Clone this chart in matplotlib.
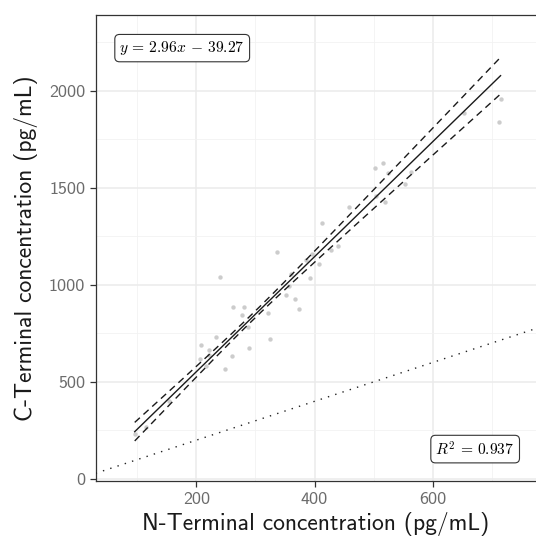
"""N-terminal vs C-terminal concentration: scatter, fitted line with 95% CI and identity line."""

import numpy as np
import matplotlib

matplotlib.use("Agg")
import matplotlib.pyplot as plt  # noqa: E402
from matplotlib.ticker import MultipleLocator  # noqa: E402

# values (pg/mL)
n_term = [95.6, 114.8, 153.7, 205.8, 208.5, 216.5, 221.0, 222.0, 234.0, 239.7,
          249.2, 260.5, 261.7, 277.0, 281.4, 288.1, 288.8, 321.0, 324.4, 336.8,
          352.0, 356.6, 361.0, 366.8, 373.6, 386.0, 392.5, 396.0, 407.5, 412.5,
          427.8, 439.0, 458.8, 503.0, 504.6, 516.4, 519.0, 524.5, 553.7, 563.4,
          652.6, 712.6, 715.0]
c_term = [230, 269, 403, 616, 692, 583, 664, 640, 733, 1040,
          568, 635, 887, 845, 884, 784, 676, 856, 722, 1167,
          947, 994, 1056, 927, 875, 1128, 1033, 1158, 1107, 1318,
          1179, 1201, 1402, 1603, 1459, 1627, 1428, 1577, 1521, 1581,
          1886, 1840, 1957]

# fit summary (coefficients from the label, uncertainty estimated from the band)
slope = 2.96
intercept = -39.27
r_squared = 0.937
slope_se = 0.110
intercept_se = 33.7
coef_corr = -0.968
t_crit = 2.0195  # 95%

x = np.asarray(n_term, dtype=float)
y = np.asarray(c_term, dtype=float)

# confidence band of the fitted line from the coefficient covariance
x_fit = np.linspace(x.min(), x.max(), 200)
y_fit = slope * x_fit + intercept
cov_ab = coef_corr * slope_se * intercept_se
half = t_crit * np.sqrt(intercept_se ** 2 + x_fit ** 2 * slope_se ** 2
                        + 2 * x_fit * cov_ab)

plt.rcParams["mathtext.fontset"] = "cm"
sans = "cmss10"

fig = plt.figure(figsize=(5.36, 5.39), dpi=100)
ax = fig.add_axes([0.1785, 0.107, 0.8215, 0.8657])

ax.set_xlim(29.5, 775)
ax.set_ylim(-12, 2391)
ax.xaxis.set_major_locator(MultipleLocator(200))
ax.xaxis.set_minor_locator(MultipleLocator(100))
ax.yaxis.set_major_locator(MultipleLocator(500))
ax.yaxis.set_minor_locator(MultipleLocator(250))

ax.grid(which="major", color="#ebebeb", linewidth=1.1)
ax.grid(which="minor", color="#f2f2f2", linewidth=0.6)
ax.set_axisbelow(True)

ax.scatter(x, y, s=10, color="#cccccc", linewidths=0, zorder=2)
ax.axline((0, 0), slope=1, color="#222222", linewidth=1.0,
          linestyle=(0, (1, 4.5)), zorder=3)
ax.plot(x_fit, y_fit, color="#1a1a1a", linewidth=1.0, zorder=4)
ax.plot(x_fit, y_fit + half, color="#1a1a1a", linewidth=1.0,
        linestyle=(0, (5, 3.5)), zorder=4)
ax.plot(x_fit, y_fit - half, color="#1a1a1a", linewidth=1.0,
        linestyle=(0, (5, 3.5)), zorder=4)

box = dict(boxstyle="round,pad=0.3,rounding_size=0.3", facecolor="white",
           edgecolor="#333333", linewidth=0.8)
eq = rf"$y\,=\,{slope:.2f}x\,-\,{abs(intercept):.2f}$"
ax.text(176, 2219, eq, ha="center", va="center", fontsize=11.2, bbox=box, zorder=5)
ax.text(672, 154, rf"$R^2\,=\,{r_squared:.3f}$",
        ha="center", va="center", fontsize=11.2, bbox=box, zorder=5)

for side in ("left", "bottom", "top"):
    ax.spines[side].set_color("#333333")
    ax.spines[side].set_linewidth(0.9)
ax.spines["right"].set_visible(False)

ax.tick_params(which="major", direction="out", length=4, width=0.9,
               color="#333333", labelcolor="#6b6b6b", labelsize=13)
ax.tick_params(which="minor", length=0)
for lab in ax.get_xticklabels() + ax.get_yticklabels():
    lab.set_family(sans)

ax.set_xlabel("N-Terminal concentration (pg/mL)", family=sans, fontsize=17,
              color="#1a1a1a", labelpad=4)
ax.set_ylabel("C-Terminal concentration (pg/mL)", family=sans, fontsize=17,
              color="#1a1a1a", labelpad=8)

fig.savefig("out.png", dpi=100)
plt.close(fig)
